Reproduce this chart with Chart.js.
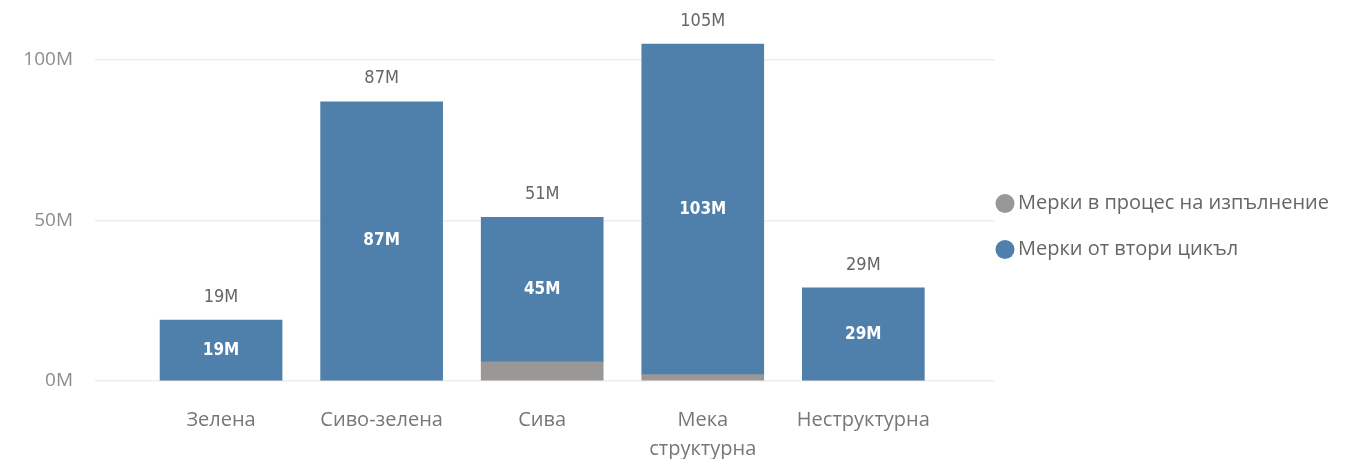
<!DOCTYPE html>
<html>
<head>
<meta charset="utf-8">
<script src="https://cdn.jsdelivr.net/npm/chart.js@4/dist/chart.umd.min.js"></script>
<style>
  html, body { margin: 0; padding: 0; background: #fff; }
  #wrap { width: 1354px; height: 459px; position: relative; }
</style>
</head>
<body>
<div id="wrap"><canvas id="chart"></canvas></div>
<script>
// категории (по оста X)
const categories = ['Зелена', 'Сиво-зелена', 'Сива', ['Мека', 'структурна'], 'Неструктурна'];
// стойности в милиони
const inProgress = [0, 0, 6, 2, 0];
const secondCycle = [19, 87, 45, 103, 29];
const yTicks = [0, 50, 100];
const seriesNames = ['Мерки в процес на изпълнение', 'Мерки от втори цикъл'];
const seriesColors = ['#9a9896', '#4f7fab'];

const totals = categories.map((_, i) => inProgress[i] + secondCycle[i]);
const fmt = v => v + 'M';
const labelFont = '"Liberation Sans Narrow", "DejaVu Sans Condensed", sans-serif';

// етикети: стойност в сините колони + общо над колоната
const valueLabels = {
  id: 'valueLabels',
  afterDatasetsDraw(chart) {
    const ctx = chart.ctx;
    const blue = chart.getDatasetMeta(1);
    ctx.save();
    ctx.textAlign = 'center';
    ctx.textBaseline = 'middle';
    blue.data.forEach((bar, i) => {
      const v = secondCycle[i];
      if (!v) return;
      ctx.font = 'bold 17px ' + labelFont;
      ctx.fillStyle = '#ffffff';
      ctx.fillText(fmt(v), bar.x, (bar.y + bar.base) / 2);
      ctx.font = '18px ' + labelFont;
      ctx.fillStyle = '#666666';
      ctx.fillText(fmt(totals[i]), bar.x, bar.y - 23);
    });
    ctx.restore();
  }
};

// легенда вдясно от графиката, точки + текст, 46px между редовете
const sideLegend = {
  id: 'sideLegend',
  afterDraw(chart) {
    const { ctx, chartArea } = chart;
    const x0 = chartArea.right + 10;
    const yMid = (chartArea.top + chartArea.bottom) / 2;
    ctx.save();
    ctx.font = '20px "Open Sans", sans-serif';
    ctx.textBaseline = 'middle';
    ctx.textAlign = 'left';
    chart.data.datasets.forEach((ds, i) => {
      const y = yMid - 1 + i * 46;
      ctx.beginPath();
      ctx.arc(x0, y, 9.5, 0, Math.PI * 2);
      ctx.fillStyle = ds.backgroundColor;
      ctx.fill();
      ctx.fillStyle = '#666';
      ctx.fillText(ds.label, x0 + 13, y);
    });
    ctx.restore();
  }
};

const chart = new Chart(document.getElementById('chart'), {
  type: 'bar',
  data: {
    datasets: seriesNames.map((name, s) => ({
      label: name,
      data: (s === 0 ? inProgress : secondCycle).map((v, i) => ({ x: i, y: v })),
      backgroundColor: seriesColors[s],
      barThickness: 122,
    }))
  },
  options: {
    responsive: true,
    maintainAspectRatio: false,
    animation: false,
    layout: { padding: { top: 28, right: 359, left: 0, bottom: 0 } },
    plugins: {
      tooltip: { enabled: false },
      legend: { display: false }
    },
    scales: {
      x: {
        type: 'linear',
        stacked: true,
        min: -0.785,
        max: 4.82,
        offset: false,
        grid: { display: false },
        border: { display: false },
        afterBuildTicks: axis => { axis.ticks = categories.map((_, i) => ({ value: i })); },
        afterFit: axis => {
          axis.height = 78;
          axis.paddingLeft = 0;
          axis.paddingRight = 0;
        },
        ticks: {
          padding: 17,
          color: '#777',
          autoSkip: false,
          maxRotation: 0,
          font: { family: '"Open Sans", sans-serif', size: 20, lineHeight: 1.45 },
          callback: val => categories[val],
        }
      },
      y: {
        stacked: true,
        min: 0,
        max: 110,
        afterBuildTicks: axis => { axis.ticks = yTicks.map(v => ({ value: v })); },
        afterFit: axis => {
          axis.width = 95;
          axis.paddingTop = 0;
          axis.paddingBottom = 0;
        },
        grid: { color: '#eeeeee', drawTicks: false, lineWidth: 1.5 },
        border: { display: false },
        ticks: {
          padding: 22,
          color: '#8c8c8c',
          font: { family: '"Open Sans", sans-serif', size: 19 },
          callback: val => fmt(val),
        }
      }
    }
  },
  plugins: [valueLabels, sideLegend]
});
</script>
</body>
</html>
